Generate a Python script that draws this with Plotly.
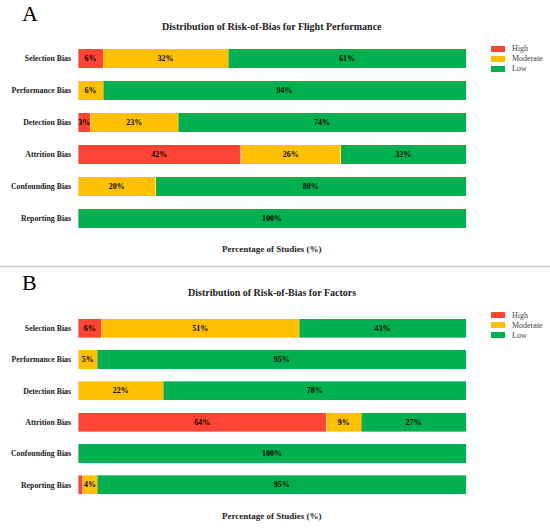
import plotly.graph_objects as go

# ---------------- data ----------------
categories = ["Selection Bias", "Performance Bias", "Detection Bias",
              "Attrition Bias", "Confounding Bias", "Reporting Bias"]
levels = ["High", "Moderate", "Low"]

a_high = [6.45, 0, 3.2, 41.9, 0, 0]
a_moderate = [32.26, 6.45, 22.6, 25.8, 20, 0]
a_low = [61.29, 93.55, 74.2, 32.3, 80, 100]

b_high = [6, 0, 0, 64, 0, 1.2]
b_moderate = [51, 5, 22, 9, 0, 3.8]
b_low = [43, 95, 78, 27, 100, 95]

panel_letters = ["A", "B"]
panel_titles = ["Distribution of Risk-of-Bias for Flight Performance",
                "Distribution of Risk-of-Bias for Factors"]
x_title = "Percentage of Studies (%)"

# ---------------- style ----------------
W, H = 550, 530
colors = {"High": "#FF4433", "Moderate": "#FFC000", "Low": "#00B050"}
SERIF = "Liberation Serif, Times New Roman, serif"

x_left, x_right = 78, 466
panels = [
    dict(data=[a_high, a_moderate, a_low], y_top=42.5, y_bot=234.5, bw=0.6,
         title_y=27, letter_y=14, xtitle_y=249, legend_y=49),
    dict(data=[b_high, b_moderate, b_low], y_top=312.5, y_bot=500.5, bw=0.61,
         title_y=292, letter_y=282, xtitle_y=516, legend_y=315),
]


def px(x):
    return x / W


def py(y):
    return 1 - y / H


fig = go.Figure()
annotations = []
shapes = []

for i, p in enumerate(panels):
    xa = "x" if i == 0 else f"x{i+1}"
    ya = "y" if i == 0 else f"y{i+1}"
    for lvl, vals in zip(levels, p["data"]):
        fig.add_trace(go.Bar(
            y=categories, x=vals, orientation="h", name=lvl,
            marker=dict(color=colors[lvl],
                        line=dict(color="rgba(255,255,255,0.45)", width=0.8)),
            width=p["bw"],
            text=[f"{v:.0f}%" if v >= 2 else "" for v in vals],
            textposition="inside", insidetextanchor="middle",
            textfont=dict(family=SERIF, size=8, color="black", weight="bold"),
            textangle=0, constraintext="none",
            xaxis=xa, yaxis=ya, showlegend=False,
            hovertemplate="%{y}: %{x:.0f}%<extra>" + lvl + "</extra>",
        ))
    xkey = "xaxis" if i == 0 else f"xaxis{i+1}"
    ykey = "yaxis" if i == 0 else f"yaxis{i+1}"
    fig.update_layout(**{
        xkey: dict(domain=[px(x_left), px(x_right)], range=[0, 100],
                   showticklabels=False, showgrid=False, zeroline=False,
                   showline=False, anchor=ya, fixedrange=True,
                   automargin=False),
        ykey: dict(domain=[py(p["y_bot"]), py(p["y_top"])],
                   categoryorder="array", categoryarray=categories[::-1],
                   showgrid=False, zeroline=False, showline=False,
                   ticks="", ticklabelstandoff=6, anchor=xa,
                   automargin=False,
                   tickfont=dict(family=SERIF, size=7.8, color="#222",
                                 weight="bold")),
    })

    # panel letter
    annotations.append(dict(text=panel_letters[i], x=px(20), y=py(p["letter_y"]),
                            xref="paper", yref="paper", xanchor="left",
                            yanchor="middle", showarrow=False,
                            font=dict(family=SERIF, size=22, color="black")))
    # title
    annotations.append(dict(text=panel_titles[i], x=px((x_left + x_right) / 2),
                            y=py(p["title_y"]), xref="paper", yref="paper",
                            xanchor="center", yanchor="middle", showarrow=False,
                            font=dict(family=SERIF, size=10, color="#222",
                                      weight="bold")))
    # x-axis title
    annotations.append(dict(text=x_title, x=px((x_left + x_right) / 2),
                            y=py(p["xtitle_y"]), xref="paper", yref="paper",
                            xanchor="center", yanchor="middle", showarrow=False,
                            font=dict(family=SERIF, size=9, color="#222",
                                      weight="bold")))
    # custom legend
    for k, lvl in enumerate(levels):
        yc = p["legend_y"] + 10 * k
        shapes.append(dict(type="rect", xref="paper", yref="paper",
                           x0=px(491), x1=px(505), y0=py(yc + 3), y1=py(yc - 3),
                           fillcolor=colors[lvl], line=dict(width=0)))
        annotations.append(dict(text=lvl, x=px(510), y=py(yc), xref="paper",
                                yref="paper", xanchor="left", yanchor="middle",
                                showarrow=False,
                                font=dict(family=SERIF, size=8, color="#444")))

# separator line between panels
shapes.append(dict(type="line", xref="paper", yref="paper",
                   x0=0, x1=1, y0=py(266.5), y1=py(266.5),
                   line=dict(color="#cccccc", width=1.5)))

fig.update_layout(
    width=W, height=H, barmode="stack", bargap=0.4,
    margin=dict(l=0, r=0, t=0, b=0, autoexpand=False),
    paper_bgcolor="white", plot_bgcolor="white",
    annotations=annotations, shapes=shapes,
    uniformtext=dict(minsize=6, mode="show"),
    hovermode=False,
)

fig.write_html("out.html",
               config={"displayModeBar": False},
               post_script="document.body.style.margin='0px';"
                           "document.body.style.overflow='hidden';")
